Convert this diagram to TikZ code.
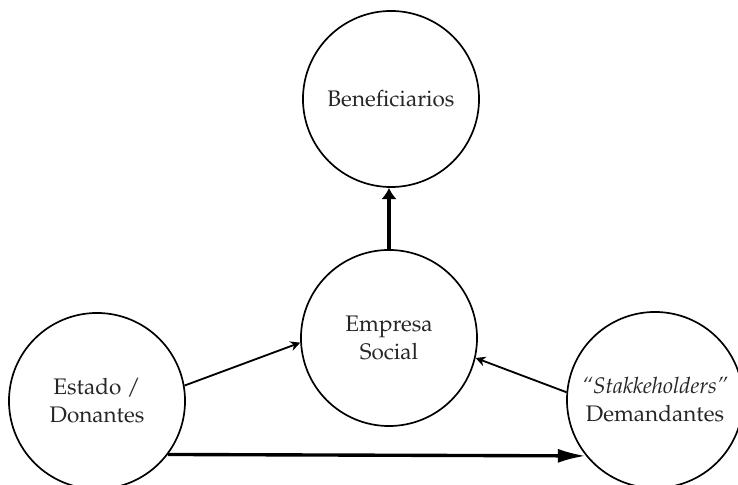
\documentclass[tikz,border=0pt]{standalone}
\usepackage[T1]{fontenc}
\usepackage{mathpazo}
\usepackage{tikz}
\usetikzlibrary{shapes,arrows,arrows.meta}
\usetikzlibrary{calc}

\begin{document}
\begin{tikzpicture}[x=0.025cm, y=0.025cm,
	actor/.style={draw, circle, line width=1.2pt, minimum size=4.4cm, align=center, text=black!85, font=\fontsize{16}{20}\selectfont},
	thinarrow/.style={line width=1.3pt, -{Stealth[length=7pt,width=7pt]}},
	thickarrow/.style={line width=2.4pt, -{Latex[#1]}}]
	\useasboundingbox (0,0) rectangle (738,485);
	
	\node[actor] (ben) at (391,386) {Beneficiarios};
	\node[actor] (emp) at (389,147) {Empresa\\Social};
	\node[actor] (est) at (97,84) {Estado /\\Donantes};
	\node[actor] (dem) at (655,85) {\textit{``Stakkeholders''}\\Demandantes};
	
	\draw[thickarrow={length=8pt,width=11pt}] (emp.north) -- (emp.north |- ben.south);
	\draw[thinarrow] (est.10) -- (emp.183);
	\draw[thinarrow] (dem.175) -- (emp.347);
	\draw[thickarrow={length=20pt,width=10pt}] (est.-37) -- (dem.219);
\end{tikzpicture}
\end{document}
